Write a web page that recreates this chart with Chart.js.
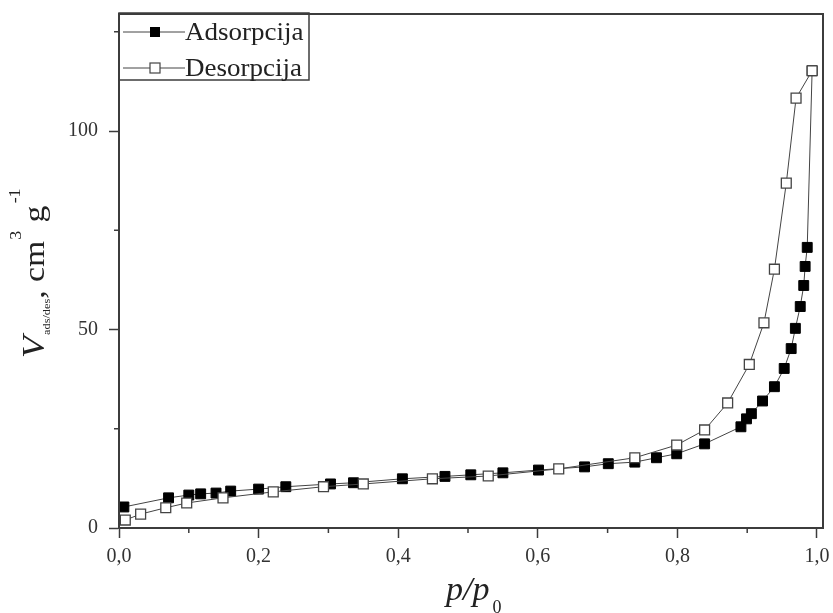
<!DOCTYPE html>
<html>
<head>
<meta charset="utf-8">
<script src="https://cdn.jsdelivr.net/npm/chart.js@4.4.0/dist/chart.umd.min.js"></script>
<style>
    html, body { margin: 0; padding: 0; background: #fff; }
</style>
</head>
<body>
<canvas id="isothermChart" width="833" height="613"></canvas>
<script>
// p/p0 and adsorbed volume
const adsorptionP = [0.007, 0.071, 0.100, 0.117, 0.139, 0.160, 0.200, 0.239, 0.303, 0.336,
    0.406, 0.467, 0.504, 0.550, 0.601, 0.667, 0.701, 0.739, 0.770, 0.799,
    0.839, 0.891, 0.899, 0.906, 0.922, 0.939, 0.953, 0.963, 0.969, 0.976,
    0.981, 0.983, 0.986, 0.993];
const adsorptionV = [5.3, 7.6, 8.3, 8.6, 8.8, 9.3, 9.8, 10.4, 11.1, 11.4,
    12.4, 13.0, 13.4, 13.9, 14.6, 15.4, 16.2, 16.6, 17.7, 18.7,
    21.2, 25.5, 27.5, 28.8, 32.0, 35.6, 40.2, 45.2, 50.3, 55.8,
    61.1, 65.9, 70.7, 115.2];

const desorptionP = [0.993, 0.970, 0.956, 0.939, 0.924, 0.903, 0.872, 0.839, 0.799, 0.739,
    0.630, 0.529, 0.449, 0.350, 0.293, 0.221, 0.149, 0.097, 0.067, 0.031, 0.009];
const desorptionV = [115.2, 108.3, 86.9, 65.2, 51.7, 41.2, 31.5, 24.7, 20.9, 17.7,
    14.9, 13.1, 12.4, 11.1, 10.4, 9.1, 7.6, 6.3, 5.1, 3.5, 2.0];

const seriesNames = ['Adsorpcija', 'Desorpcija'];
const xMajorTicks = [0, 0.2, 0.4, 0.6, 0.8, 1.0];
const yMajorTicks = [0, 50, 100];

const axisColor = '#3c3c3c';
const serif = '"Liberation Serif", "Times New Roman", serif';

const toPoints = (xs, ys) => xs.map((x, i) => ({ x: x, y: ys[i] }));
const isMajor = (value, list) => list.some(t => Math.abs(t - value) < 1e-6);

// frame, minor ticks, legend box and axis titles
const decorations = {
    id: 'decorations',
    afterDraw(chart) {
        const { ctx, chartArea: a, scales } = chart;
        ctx.save();

        // plot frame
        ctx.strokeStyle = axisColor;
        ctx.lineWidth = 2;
        ctx.strokeRect(a.left, a.top, a.right - a.left, a.bottom - a.top);

        // minor ticks (shorter)
        ctx.lineWidth = 1.5;
        ctx.beginPath();
        scales.x.ticks.forEach(t => {
            if (!isMajor(t.value, xMajorTicks)) {
                const px = scales.x.getPixelForValue(t.value);
                ctx.moveTo(px, a.bottom);
                ctx.lineTo(px, a.bottom + 5);
            }
        });
        scales.y.ticks.forEach(t => {
            if (!isMajor(t.value, yMajorTicks)) {
                const py = scales.y.getPixelForValue(t.value);
                ctx.moveTo(a.left, py);
                ctx.lineTo(a.left - 5, py);
            }
        });
        ctx.stroke();

        // legend box inside the plot
        const lx = a.left, ly = a.top - 1;
        ctx.lineWidth = 1.5;
        ctx.strokeStyle = axisColor;
        ctx.strokeRect(lx, ly, 190, 67);
        const rows = [ly + 19, ly + 55];
        ctx.textBaseline = 'middle';
        rows.forEach((ry, i) => {
            ctx.strokeStyle = '#444';
            ctx.lineWidth = 1;
            ctx.beginPath();
            ctx.moveTo(lx + 4, ry);
            ctx.lineTo(lx + 66, ry);
            ctx.stroke();
            if (i === 0) {
                ctx.fillStyle = '#000';
                ctx.fillRect(lx + 31, ry - 5, 10, 10);
            } else {
                ctx.fillStyle = '#fff';
                ctx.fillRect(lx + 31, ry - 5, 10, 10);
                ctx.strokeStyle = '#444';
                ctx.lineWidth = 1.2;
                ctx.strokeRect(lx + 31, ry - 5, 10, 10);
            }
            // text is a bit wider in the picture
            ctx.save();
            ctx.translate(lx + 66, ry + 1);
            ctx.scale(1.08, 1);
            ctx.font = '25px ' + serif;
            ctx.fillStyle = '#222';
            ctx.textAlign = 'left';
            ctx.fillText(seriesNames[i], 0, 0);
            ctx.restore();
        });

        // y axis title, rotated
        ctx.fillStyle = '#222';
        ctx.textAlign = 'left';
        ctx.textBaseline = 'alphabetic';
        ctx.save();
        ctx.translate(44, 358);
        ctx.rotate(-Math.PI / 2);
        ctx.scale(1.12, 1);
        let cx = 0;
        const put = (text, font, dy) => {
            ctx.font = font;
            ctx.fillText(text, cx, dy);
            cx += ctx.measureText(text).width;
        };
        put('V', 'italic 32px ' + serif, 0);
        cx += 1;
        put('ads/des', '11px ' + serif, 6);
        put(', cm', '30px ' + serif, 0);
        cx += 1;
        put('3', '16px ' + serif, -23);
        put(' g', '30px ' + serif, 0);
        cx += 2;
        put('-1', '16px ' + serif, -24);
        ctx.restore();

        // x axis title
        ctx.font = 'italic 34px ' + serif;
        ctx.fillText('p/p', 446, 600);
        const w = ctx.measureText('p/p').width;
        ctx.font = '18px ' + serif;
        ctx.fillText('0', 446 + w + 3, 613);

        ctx.restore();
    }
};

const ctx = document.getElementById('isothermChart').getContext('2d');
new Chart(ctx, {
    type: 'line',
    data: {
        datasets: [
            {
                label: seriesNames[0],
                data: toPoints(adsorptionP, adsorptionV),
                borderColor: '#444',
                borderWidth: 1,
                pointStyle: 'rect',
                pointRadius: 7,
                pointBackgroundColor: '#000',
                pointBorderColor: '#000',
                pointBorderWidth: 1,
                fill: false,
                tension: 0,
                order: 1,
            },
            {
                label: seriesNames[1],
                data: toPoints(desorptionP, desorptionV),
                borderColor: '#444',
                borderWidth: 1,
                pointStyle: 'rect',
                pointRadius: 7,
                pointBackgroundColor: '#fff',
                pointBorderColor: '#444',
                pointBorderWidth: 1.3,
                fill: false,
                tension: 0,
                order: 0,
            },
        ],
    },
    options: {
        responsive: false,
        animation: false,
        layout: { padding: { left: 57, right: 10, top: 14, bottom: 37 } },
        plugins: {
            legend: { display: false },
            tooltip: { enabled: false },
        },
        scales: {
            x: {
                type: 'linear',
                min: 0,
                max: 1.0086,
                border: { display: true, color: axisColor, width: 2 },
                grid: {
                    drawOnChartArea: false,
                    tickLength: 10,
                    tickWidth: 1.5,
                    tickColor: c => isMajor(c.tick.value, xMajorTicks) ? axisColor : 'rgba(0,0,0,0)',
                },
                ticks: {
                    stepSize: 0.1,
                    includeBounds: false,
                    autoSkip: false,
                    maxRotation: 0,
                    padding: 7,
                    color: '#333',
                    font: { family: serif, size: 20 },
                    callback: v => isMajor(v, xMajorTicks) ? v.toFixed(1).replace('.', ',') : '',
                },
                afterFit: s => { s.paddingRight = 0; },
            },
            y: {
                type: 'linear',
                min: 0,
                max: 129.5,
                border: { display: true, color: axisColor, width: 2 },
                grid: {
                    drawOnChartArea: false,
                    tickLength: 10,
                    tickWidth: 1.5,
                    tickColor: c => isMajor(c.tick.value, yMajorTicks) ? axisColor : 'rgba(0,0,0,0)',
                },
                ticks: {
                    stepSize: 25,
                    includeBounds: false,
                    padding: 11,
                    color: '#333',
                    font: { family: serif, size: 20 },
                    callback: v => isMajor(v, yMajorTicks) ? String(v) : '',
                },
                afterFit: s => { s.paddingTop = 0; s.paddingBottom = 0; },
            },
        },
    },
    plugins: [decorations],
});
</script>
</body>
</html>
